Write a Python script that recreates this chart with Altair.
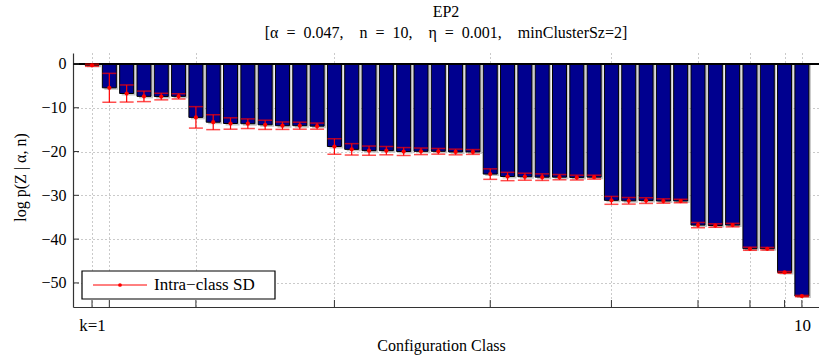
import altair as alt
import pandas as pd

# ---- data ----
config_index = list(range(1, 43))
mean_logp = [
    -0.3,
    -5.45, -6.75, -7.4, -7.45, -7.4,
    -12.2, -13.3, -13.6, -13.65, -13.9, -14.1, -14.1, -14.2,
    -18.85, -19.5, -19.8, -19.8, -20.0, -19.95, -19.95, -20.1, -20.1,
    -25.15, -25.7, -25.75, -25.85, -25.85, -25.95, -25.85,
    -31.15, -31.25, -31.2, -31.3, -31.3,
    -36.8, -36.9, -36.8,
    -42.2, -42.2,
    -47.6,
    -53.0,
]
sd_logp = [
    0.25,
    3.3, 1.95, 1.2, 0.75, 0.6,
    2.45, 1.7, 1.3, 1.1, 1.05, 0.85, 0.8, 0.7,
    1.75, 1.3, 1.05, 0.95, 0.9, 0.75, 0.65, 0.65, 0.55,
    1.2, 0.95, 0.8, 0.75, 0.6, 0.55, 0.45,
    0.9, 0.75, 0.65, 0.5, 0.4,
    0.6, 0.4, 0.4,
    0.35, 0.3,
    0.2,
    0.15,
]
x_tick_positions = [1, 2, 7, 15, 24, 31, 36, 39, 41, 42]
y_tick_values = [0, -10, -20, -30, -40, -50]
legend_label = ["Intra\u2212class SD"]

df = pd.DataFrame({"idx": config_index, "mean": mean_logp, "sd": sd_logp})
df["lo"] = df["mean"] + df["sd"]
df["hi"] = df["mean"] - df["sd"]

xticks_df = pd.DataFrame({"t": x_tick_positions})
yticks_df = pd.DataFrame({"t": y_tick_values})
legend_df = pd.DataFrame({"label": legend_label})

W, H = 746, 254
SERIF = "Liberation Serif"
SP = "\u2002"

xs = alt.Scale(domain=[0.19, 42.7], nice=False, zero=False)
ys = alt.Scale(domain=[-55.5, 2.5], nice=False, zero=False)

x_axis = alt.Axis(
    values=x_tick_positions,
    labelExpr="datum.value == 1 ? 'k=1' : (datum.value == 42 ? '10' : '')",
    title="Configuration Class",
    titleX=368, titleY=38, titleBaseline="middle", titleAlign="center",
    labelPadding=10, tickSize=0, grid=True, labelFlush=False,
    labelOverlap=False, labelFontSize=17,
)
y_axis = alt.Axis(
    values=y_tick_values,
    title="log p(Z | \u03b1, n)",
    titleAngle=-90, titleX=-53, titleY=124, titleBaseline="middle", titleAlign="center",
    labelPadding=7, tickSize=0, grid=True,
)


def X(field):
    return alt.X(f"{field}:Q", scale=xs, axis=x_axis)


def Y(field):
    return alt.Y(f"{field}:Q", scale=ys, axis=y_axis)


base = alt.Chart(df)

shadow = base.mark_bar(size=14, color="#c4c4c4", xOffset=2, yOffset=2).encode(
    x=X("idx"), y=Y("mean"), y2=alt.datum(0)
)
bars = base.mark_bar(size=14, color="#00008f", stroke="black", strokeWidth=1).encode(
    x=X("idx"), y=Y("mean"), y2=alt.datum(0)
)
zero_line = base.mark_rule(color="black", strokeWidth=1.2).encode(y=alt.datum(0))

err_line = base.mark_rule(color="#ff0000", strokeWidth=1.2).encode(
    x=X("idx"), y=Y("lo"), y2=alt.Y2("hi")
)
cap_top = base.mark_tick(orient="horizontal", size=14, thickness=1.5, color="#ff0000").encode(
    x=X("idx"), y=Y("lo")
)
cap_bot = base.mark_tick(orient="horizontal", size=14, thickness=1.5, color="#ff0000").encode(
    x=X("idx"), y=Y("hi")
)
dots = base.mark_circle(size=18, color="#ff0000", opacity=1).encode(x=X("idx"), y=Y("mean"))

xticks = alt.Chart(xticks_df).mark_rule(color="#333333", strokeWidth=1).encode(
    x=X("t"), y=alt.value(H - 7), y2=alt.value(H)
)
yticks = alt.Chart(yticks_df).mark_rule(color="#333333", strokeWidth=1).encode(
    y=Y("t"), x=alt.value(0), x2=alt.value(6)
)

leg_box = alt.Chart(legend_df).mark_rect(fill="white", stroke="black", strokeWidth=1.2).encode(
    x=alt.value(9), x2=alt.value(202), y=alt.value(218), y2=alt.value(246)
)
leg_line = alt.Chart(legend_df).mark_rule(color="#ff0000", strokeWidth=1).encode(
    x=alt.value(20), x2=alt.value(74), y=alt.value(232)
)
leg_dot = alt.Chart(legend_df).mark_circle(size=14, color="#ff0000", opacity=1).encode(
    x=alt.value(47), y=alt.value(232)
)
leg_text = alt.Chart(legend_df).mark_text(
    align="left", baseline="middle", font=SERIF, fontSize=17, color="black"
).encode(x=alt.value(81), y=alt.value(232), text="label:N")

title_line2 = (
    f"[\u03b1{SP}={SP}0.047,{SP}{SP}n{SP}={SP}10,{SP}{SP}\u03b7{SP}={SP}0.001,"
    f"{SP}{SP}minClusterSz=2]"
)

chart = (
    alt.layer(
        shadow, bars, zero_line, err_line, cap_top, cap_bot, dots,
        xticks, yticks, leg_box, leg_line, leg_dot, leg_text,
    )
    .properties(
        width=W,
        height=H,
        autosize="none",
        padding={"left": 73, "top": 53, "right": 0, "bottom": 53},
        title=alt.TitleParams(
            text=["EP2", title_line2],
            font=SERIF,
            fontSize=16,
            fontWeight="normal",
            lineHeight=21,
            anchor="middle",
            frame="group",
            offset=12,
            color="black",
        ),
    )
    .configure_view(stroke=None)
    .configure_title(font=SERIF, fontWeight="normal")
    .configure_axis(
        labelFont=SERIF,
        labelFontSize=16,
        labelColor="black",
        titleFont=SERIF,
        titleFontSize=16,
        titleFontWeight="normal",
        titleColor="black",
        domainColor="#333333",
        domainWidth=1.2,
        gridColor="#666666",
        gridDash=[1, 3],
        gridOpacity=0.7,
        gridWidth=1,
    )
)

chart.save("out.html", embed_options={"renderer": "svg", "actions": False})
